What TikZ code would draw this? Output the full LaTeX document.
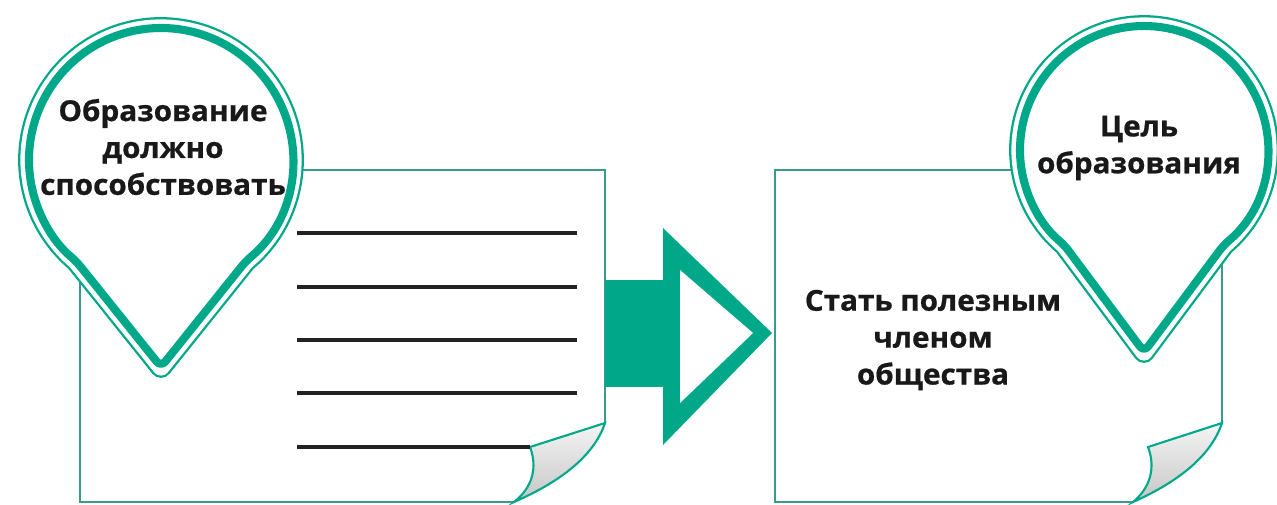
\documentclass[tikz,border=0pt]{standalone}
\usepackage{fontspec}
\newfontfamily\labelfont[FakeStretch=1.03, BoldFeatures={FakeBold=0.7}]{Open Sans}
\definecolor{pinteal}{HTML}{00A88A}
\definecolor{pageteal}{HTML}{3A9B8C}
\definecolor{inkgray}{HTML}{222222}
\usepackage{tikz}
\usetikzlibrary{calc}

\tikzset{
  pagebox/.style={draw=pageteal, line width=1.5pt, line join=miter},
  textline/.style={draw=inkgray, line width=1.8pt},
  pintext/.style={font=\labelfont\bfseries\fontsize{16.4}{21}\selectfont, align=center, text=black!90, inner sep=0pt},
  flap/.style={draw=pinteal, line width=1.2pt, top color=gray!8, bottom color=gray!45}
}

% teardrop pin: centre x, centre y, radius, tip y
\newcommand{\drawpin}[4]{%
  \def\pinpath{(#1,#4) -- ($(#1,#2)+(-50:#3)$) arc[start angle=-50, end angle=230, radius=#3] -- cycle}
  \draw[pinteal, line width=12.4pt, line join=round] \pinpath;
  \draw[white, line width=9.8pt, line join=round] \pinpath;
  \fill[white] \pinpath;
  \draw[pinteal, line width=4.6pt, line join=round, rounded corners=4pt] \pinpath;
}

\begin{document}
\begin{tikzpicture}[x=0.02cm, y=0.02cm]
  \useasboundingbox (0,0) rectangle (1277,-504);
  % Left page
  \draw[pagebox] (514,-502) -- (80,-502) -- (80,-170) -- (605,-170) -- (605,-423);
  \draw[flap] (605,-423) -- (530,-447)
    .. controls (538,-468) and (532,-488) .. (514,-502)
    .. controls (560,-482) and (594,-456) .. cycle;
  % Text lines
  \foreach \y in {233,287,340,393} {
    \draw[textline] (297,-\y) -- (577,-\y);
  }
  \draw[textline] (297,-447) -- (530,-447);
  % Right page
  \draw[pagebox] (1133,-502) -- (775,-502) -- (775,-170) -- (1222,-170) -- (1222,-423);
  \draw[flap] (1222,-423) -- (1148,-447)
    .. controls (1156,-468) and (1150,-488) .. (1133,-502)
    .. controls (1178,-482) and (1211,-456) .. cycle;
  % Arrow between the pages
  \fill[pinteal] (605,-280) rectangle (666,-387);
  \fill[pinteal] (663,-228) -- (663,-445) -- (772,-333) -- cycle;
  \fill[white] (680,-270) -- (680,-403) -- (753,-333) -- cycle;
  % Pins
  \drawpin{161}{-160}{132}{-367}
  \drawpin{1144}{-150}{124}{-352}
  \node[pintext] (task) at (163,-147) {Образование\\должно\\способствовать};
  \node[pintext] (goal) at (1139,-148) {Цель\\образования};
  \node[pintext] (answer) at (933,-340) {Стать полезным\\членом\\общества};
\end{tikzpicture}
\end{document}
